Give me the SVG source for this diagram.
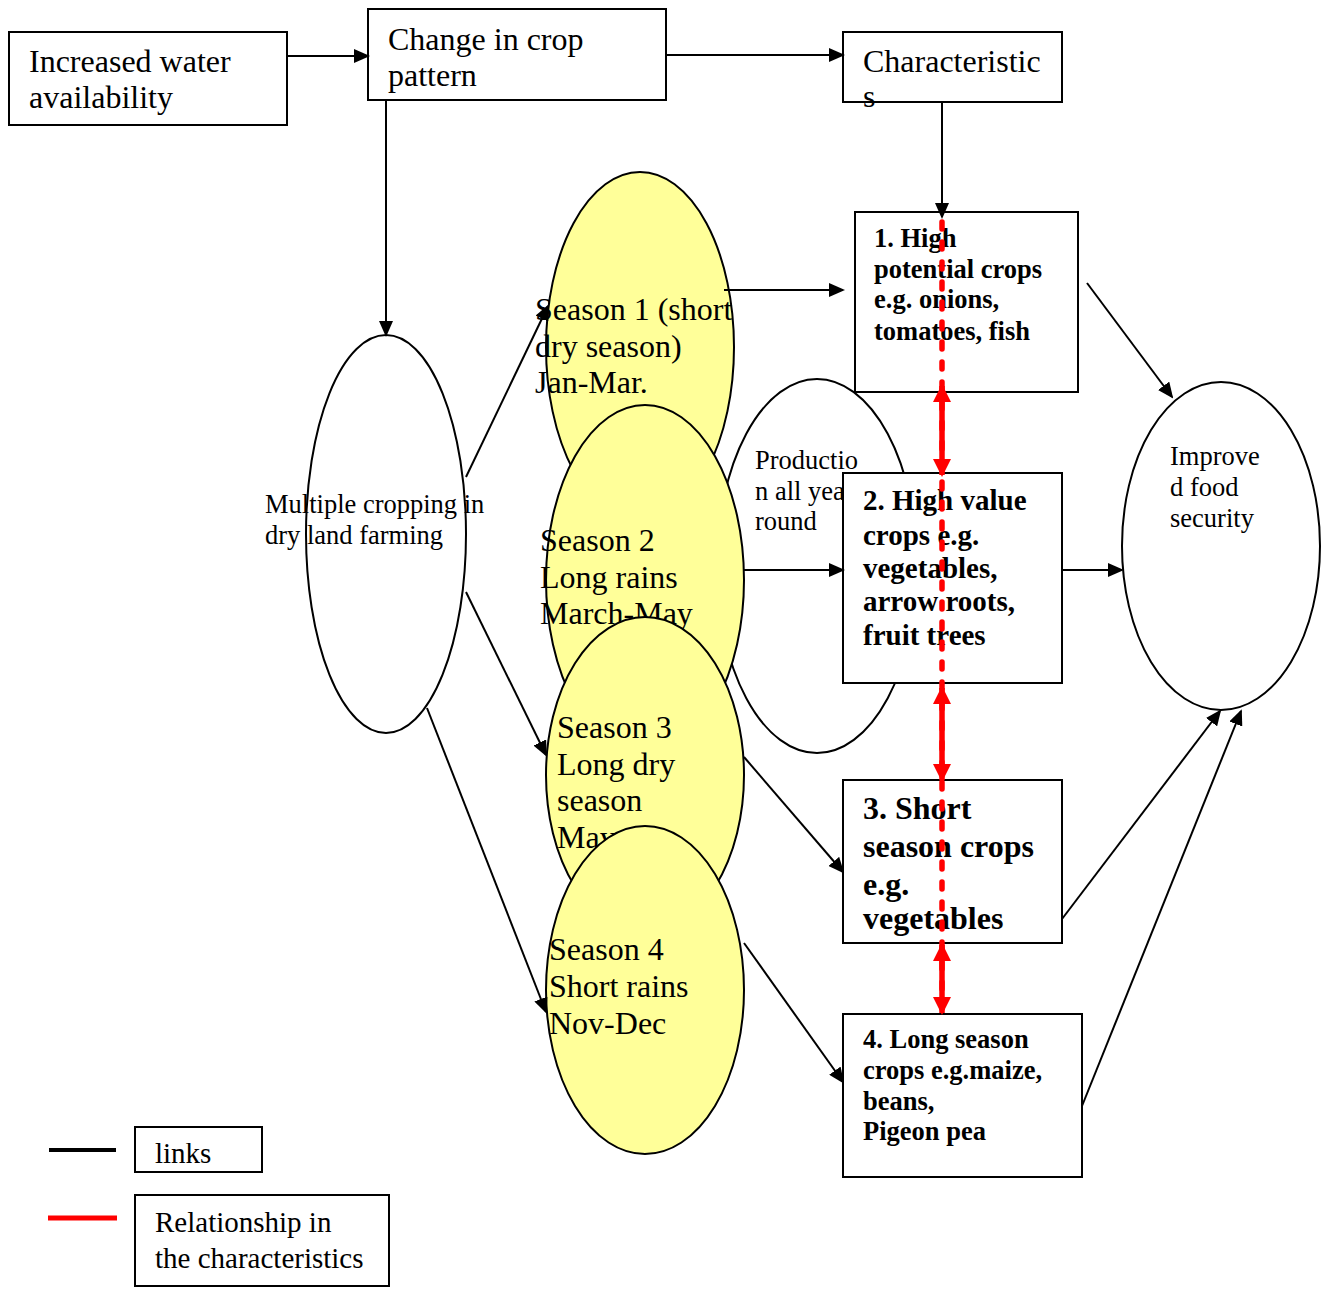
<svg xmlns="http://www.w3.org/2000/svg" width="1324" height="1289" viewBox="0 0 1324 1289">
<style>
  .box { fill: #ffffff; stroke: #000000; stroke-width: 2; }
  .ell { fill: #ffffff; stroke: #000000; stroke-width: 2; }
  .season { fill: #ffff99; stroke: #000000; stroke-width: 2; }
  .t { font-family: "Liberation Serif", "Times New Roman", serif; fill: #000000; }
  .big { font-size: 32px; }
  .mid { font-size: 26.5px; }
  .leg { font-size: 29px; }
  .b { font-weight: bold; }
  .link { stroke: #000000; stroke-width: 2; fill: none; marker-end: url(#ah); }
  .rel { stroke: #ff0000; stroke-width: 5.5; fill: none; }
</style>
<defs>
  <marker id="ah" markerUnits="userSpaceOnUse" markerWidth="16" markerHeight="14" refX="14" refY="7" orient="auto">
    <path d="M0,0 L16,7 L0,14 z" fill="#000000"/>
  </marker>
  <marker id="rh" markerUnits="userSpaceOnUse" markerWidth="18" markerHeight="18" refX="16" refY="9" orient="auto-start-reverse">
    <path d="M0,0 L18,9 L0,18 z" fill="#ff0000"/>
  </marker>
</defs>

<g id="node-production">
  <ellipse class="ell" cx="817" cy="566" rx="100" ry="187"/>
  <text class="t mid" x="755" y="469">Productio</text>
  <text class="t mid" x="755" y="500">n all year</text>
  <text class="t mid" x="755" y="530">round</text>
</g>

<g id="node-multiple">
  <ellipse class="ell" cx="386" cy="534" rx="80" ry="199"/>
  <text class="t mid" x="265" y="513">Multiple cropping in</text>
  <text class="t mid" x="265" y="544">dry land farming</text>
</g>

<g id="node-season1">
  <ellipse class="season" cx="640" cy="347" rx="94" ry="175"/>
  <text class="t big" x="535" y="320">Season 1 (short</text>
  <text class="t big" x="535" y="357">dry season)</text>
  <text class="t big" x="535" y="393">Jan-Mar.</text>
</g>

<g id="node-season2">
  <ellipse class="season" cx="645" cy="580" rx="99" ry="175"/>
  <text class="t big" x="540" y="551">Season 2</text>
  <text class="t big" x="540" y="588">Long rains</text>
  <text class="t big" x="540" y="624">March-May</text>
</g>

<g id="node-season3">
  <ellipse class="season" cx="645" cy="775" rx="99" ry="158"/>
  <text class="t big" x="557" y="738">Season 3</text>
  <text class="t big" x="557" y="775">Long dry</text>
  <text class="t big" x="557" y="811">season</text>
  <text class="t big" x="557" y="848">May</text>
</g>

<g id="node-season4">
  <ellipse class="season" cx="645" cy="990" rx="99" ry="164"/>
  <text class="t big" x="549" y="960">Season 4</text>
  <text class="t big" x="549" y="997">Short rains</text>
  <text class="t big" x="549" y="1034">Nov-Dec</text>
</g>

<g id="node-food">
  <ellipse class="ell" cx="1221" cy="546" rx="99" ry="164"/>
  <text class="t mid" x="1170" y="465">Improve</text>
  <text class="t mid" x="1170" y="496">d food</text>
  <text class="t mid" x="1170" y="527">security</text>
</g>

<g id="node-water">
  <rect class="box" x="9" y="32" width="278" height="93"/>
  <text class="t big" x="29" y="72">Increased water</text>
  <text class="t big" x="29" y="108">availability</text>
</g>

<g id="node-change">
  <rect class="box" x="368" y="9" width="298" height="91"/>
  <text class="t big" x="388" y="50">Change in crop</text>
  <text class="t big" x="388" y="86">pattern</text>
</g>

<g id="node-characteristics">
  <rect class="box" x="843" y="32" width="219" height="70"/>
  <text class="t big" x="863" y="72">Characteristic</text>
  <text class="t big" x="863" y="107">s</text>
</g>

<g id="node-c1">
  <rect class="box" x="855" y="212" width="223" height="180"/>
  <text class="t mid b" x="874" y="247">1. High</text>
  <text class="t mid b" x="874" y="278">potential crops</text>
  <text class="t mid b" x="874" y="308">e.g. onions,</text>
  <text class="t mid b" x="874" y="340">tomatoes, fish</text>
</g>

<g id="node-c2">
  <rect class="box" x="843" y="473" width="219" height="210"/>
  <text class="t b" style="font-size:29px" x="863" y="510">2. High value</text>
  <text class="t b" style="font-size:29px" x="863" y="545">crops e.g.</text>
  <text class="t b" style="font-size:29px" x="863" y="578">vegetables,</text>
  <text class="t b" style="font-size:29px" x="863" y="611">arrow roots,</text>
  <text class="t b" style="font-size:29px" x="863" y="645">fruit trees</text>
</g>

<g id="node-c3">
  <rect class="box" x="843" y="780" width="219" height="163"/>
  <text class="t big b" x="863" y="819">3. Short</text>
  <text class="t big b" x="863" y="857">season crops</text>
  <text class="t big b" x="863" y="895">e.g.</text>
  <text class="t big b" x="863" y="929">vegetables</text>
</g>

<g id="node-c4">
  <rect class="box" x="843" y="1014" width="239" height="163"/>
  <text class="t mid b" x="863" y="1048">4. Long season</text>
  <text class="t mid b" x="863" y="1079">crops e.g.maize,</text>
  <text class="t mid b" x="863" y="1110">beans,</text>
  <text class="t mid b" x="863" y="1140">Pigeon pea</text>
</g>

<g id="connectors">
  <line class="link" x1="287" y1="56" x2="368" y2="56"/>
  <line class="link" x1="665" y1="55" x2="843" y2="55"/>
  <line class="link" x1="386" y1="100" x2="386" y2="335"/>
  <line class="link" x1="942" y1="102" x2="942" y2="217"/>
  <line class="link" x1="466" y1="477" x2="548" y2="306"/>
  <line class="link" x1="466" y1="592" x2="546" y2="755"/>
  <line class="link" x1="427" y1="708" x2="546" y2="1012"/>
  <line class="link" x1="724" y1="290" x2="843" y2="290"/>
  <line class="link" x1="744" y1="570" x2="843" y2="570"/>
  <line class="link" x1="744" y1="757" x2="843" y2="872"/>
  <line class="link" x1="744" y1="943" x2="843" y2="1082"/>
  <line class="link" x1="1087" y1="283" x2="1172" y2="397"/>
  <line class="link" x1="1062" y1="570" x2="1122" y2="570"/>
  <line class="link" x1="1062" y1="919" x2="1220" y2="711"/>
  <line class="link" x1="1082" y1="1106" x2="1241" y2="711"/>
  <line class="rel" x1="942" y1="222" x2="942" y2="1008" stroke-dasharray="7 13" stroke-linecap="round"/>
  <line class="rel" x1="942" y1="386" x2="942" y2="475" marker-start="url(#rh)" marker-end="url(#rh)"/>
  <line class="rel" x1="942" y1="688" x2="942" y2="780" marker-start="url(#rh)" marker-end="url(#rh)"/>
  <line class="rel" x1="942" y1="945" x2="942" y2="1013" marker-start="url(#rh)" marker-end="url(#rh)"/>
</g>

<g id="legend">
  <line x1="49" y1="1150" x2="116" y2="1150" stroke="#000000" stroke-width="4"/>
  <rect class="box" x="135" y="1127" width="127" height="45"/>
  <text class="t leg" x="155" y="1163">links</text>
  <line x1="48" y1="1218" x2="117" y2="1218" stroke="#ff0000" stroke-width="5"/>
  <rect class="box" x="135" y="1195" width="254" height="91"/>
  <text class="t leg" x="155" y="1232">Relationship in</text>
  <text class="t leg" x="155" y="1268">the characteristics</text>
</g>
</svg>
